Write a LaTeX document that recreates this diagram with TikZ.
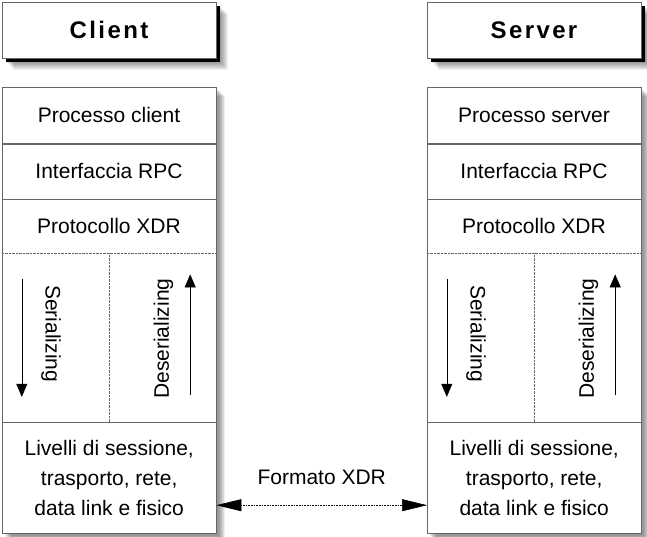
\documentclass[tikz,border=0pt]{standalone}
\usepackage{fontspec}
\setmainfont{Liberation Sans}
\usetikzlibrary{positioning,arrows.meta,calc,backgrounds}

\begin{document}
\begin{tikzpicture}[
    x=1pt, y=1pt,
    node distance=0pt,
    head/.style={rectangle, draw=black!60, fill=white, minimum width=214pt, minimum height=56pt, inner sep=0pt, font=\fontsize{24}{28}\selectfont\bfseries\addfontfeatures{LetterSpace=10}},
    layer/.style={rectangle, draw=black!60, minimum width=214pt, inner sep=0pt, align=center, font=\fontsize{21}{30}\selectfont},
    half/.style={rectangle, minimum width=107pt, minimum height=168pt, inner sep=0pt},
    flowtext/.style={font=\fontsize{21}{24}\selectfont},
    sep/.style={densely dotted, draw=black!60},
    flow/.style={-{Triangle[length=13pt,width=11pt]}, line width=0.6pt},
    xfer/.style={{Triangle[length=25pt,width=12pt]}-{Triangle[length=25pt,width=12pt]}, densely dotted, line width=0.6pt}
]
    \useasboundingbox (0,0) rectangle (647,-536);

    % client side
    \node[head] (client) at (109,-30) {Client};
    \node[layer, minimum height=56pt, below=29pt of client] (cproc) {Processo client};
    \node[layer, minimum height=55pt, below=of cproc] (crpc) {Interfaccia RPC};
    \node[layer, draw=none, minimum height=54pt, below=of crpc] (cxdr) {Protocollo XDR};
    \node[half, anchor=north west] (cser) at (cxdr.south west) {};
    \node[half, right=of cser] (cdes) {};
    \node[layer, minimum height=111pt, below=of cser.south east] (cliv) {Livelli di sessione,\\trasporto, rete,\\data link e fisico};
    \draw[black!60] (cproc.north west) rectangle (cliv.south east);
    \draw[sep] (cxdr.south west) -- (cxdr.south east);
    \draw[sep] (cser.north east) -- (cser.south east);
    \node[flowtext, rotate=-90] (csertxt) at ($(cser.center)+(-4.5,4)$) {Serializing};
    \node[flowtext, rotate=90] (cdestxt) at ($(cdes.center)+(0.5,-1)$) {Deserializing};
    \coordinate (csera) at ($(cser.north west)+(20,-26)$);
    \coordinate (cserb) at ($(cser.south west)+(20,25)$);
    \coordinate (cdesa) at ($(cdes.south west)+(81,27)$);
    \coordinate (cdesb) at ($(cdes.north west)+(81,-21)$);
    \draw[flow] (csera) -- (cserb);
    \draw[flow] (cdesa) -- (cdesb);

    % server side
    \node[head] (server) at (534,-30) {Server};
    \node[layer, minimum height=56pt, below=29pt of server] (sproc) {Processo server};
    \node[layer, minimum height=55pt, below=of sproc] (srpc) {Interfaccia RPC};
    \node[layer, draw=none, minimum height=54pt, below=of srpc] (sxdr) {Protocollo XDR};
    \node[half, anchor=north west] (sser) at (sxdr.south west) {};
    \node[half, right=of sser] (sdes) {};
    \node[layer, minimum height=111pt, below=of sser.south east] (sliv) {Livelli di sessione,\\trasporto, rete,\\data link e fisico};
    \draw[black!60] (sproc.north west) rectangle (sliv.south east);
    \draw[sep] (sxdr.south west) -- (sxdr.south east);
    \draw[sep] (sser.north east) -- (sser.south east);
    \node[flowtext, rotate=-90] (ssertxt) at ($(sser.center)+(-4.5,4)$) {Serializing};
    \node[flowtext, rotate=90] (sdestxt) at ($(sdes.center)+(0.5,-1)$) {Deserializing};
    \coordinate (ssera) at ($(sser.north west)+(20,-26)$);
    \coordinate (sserb) at ($(sser.south west)+(20,25)$);
    \coordinate (sdesa) at ($(sdes.south west)+(81,27)$);
    \coordinate (sdesb) at ($(sdes.north west)+(81,-21)$);
    \draw[flow] (ssera) -- (sserb);
    \draw[flow] (sdesa) -- (sdesb);

    % XDR between the two stacks
    \node[font=\fontsize{21}{24}\selectfont] (fmt) at ($(cliv.east)!0.5!(sliv.west)$) {Formato XDR};
    \coordinate (cxa) at ($(cliv.south east)+(0,28)$);
    \coordinate (sxa) at ($(sliv.south west)+(0,28)$);
    \draw[xfer] (cxa) -- (sxa);

    % shadows
    \begin{scope}[on background layer]
        \foreach \o in {5,...,12} {
            \fill[black, opacity=0.06] ($(client.north west)+(\o,-\o)$) rectangle ($(client.south east)+(\o,-\o)$);
            \fill[black, opacity=0.06] ($(server.north west)+(\o,-\o)$) rectangle ($(server.south east)+(\o,-\o)$);
        }
        \fill[black] ($(client.north west)+(4,-4)$) rectangle ($(client.south east)+(4,-4)$);
        \fill[black] ($(server.north west)+(4,-4)$) rectangle ($(server.south east)+(4,-4)$);
        \foreach \o in {3,...,9} {
            \fill[black, opacity=0.07] ($(cproc.north west)+(\o,-\o)$) rectangle ($(cliv.south east)+(\o,-\o)$);
            \fill[black, opacity=0.07] ($(sproc.north west)+(\o,-\o)$) rectangle ($(sliv.south east)+(\o,-\o)$);
        }
        \fill[white] (cproc.north west) rectangle (cliv.south east);
        \fill[white] (sproc.north west) rectangle (sliv.south east);
    \end{scope}
\end{tikzpicture}
\end{document}
